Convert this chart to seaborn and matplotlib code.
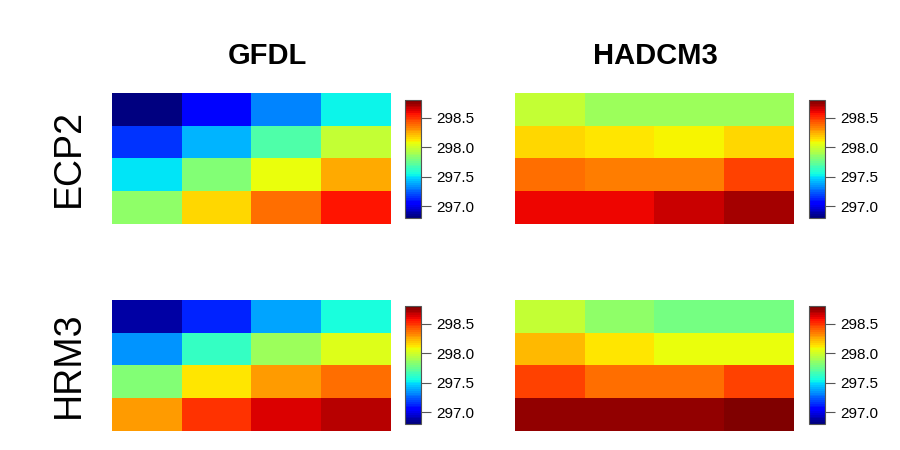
import numpy as np
import pandas as pd
import seaborn as sns
import matplotlib.pyplot as plt

# GCM x RCM mean temperatures (K), 4x4 grid, top row first
gfdl_ecp2 = [[296.80, 297.07, 297.32, 297.52],
             [297.15, 297.42, 297.70, 297.96],
             [297.50, 297.80, 298.08, 298.24],
             [297.84, 298.15, 298.38, 298.55]]
hadcm3_ecp2 = [[297.96, 297.89, 297.88, 297.89],
               [298.16, 298.12, 298.09, 298.16],
               [298.38, 298.35, 298.35, 298.46],
               [298.61, 298.61, 298.67, 298.73]]
gfdl_hrm3 = [[296.88, 297.14, 297.39, 297.55],
             [297.36, 297.62, 297.89, 298.04],
             [297.80, 298.12, 298.28, 298.38],
             [298.28, 298.51, 298.64, 298.70]]
hadcm3_hrm3 = [[297.96, 297.84, 297.77, 297.77],
               [298.22, 298.12, 298.08, 298.08],
               [298.46, 298.38, 298.38, 298.46],
               [298.74, 298.74, 298.74, 298.80]]

gcms = ['GFDL', 'HADCM3']
rcms = ['ECP2', 'HRM3']
panels = {('ECP2', 'GFDL'): gfdl_ecp2, ('ECP2', 'HADCM3'): hadcm3_ecp2,
          ('HRM3', 'GFDL'): gfdl_hrm3, ('HRM3', 'HADCM3'): hadcm3_hrm3}
cbar_ticks = [297.0, 297.5, 298.0, 298.5]
vmin, vmax = 296.8, 298.8

plt.rcParams['font.family'] = ['Liberation Sans', 'DejaVu Sans']
cmap = plt.get_cmap('jet', 64)

fig = plt.figure(figsize=(9, 4.5), dpi=100)

hm_left = [0.1244, 0.5722]
cb_left = [0.450, 0.899]
hm_bottom = [0.502, 0.042]
cb_bottom = [0.5156, 0.0578]

for i, rcm in enumerate(rcms):
    for j, gcm in enumerate(gcms):
        ax = fig.add_axes([hm_left[j], hm_bottom[i], 0.310, 0.292])
        cax = fig.add_axes([cb_left[j], cb_bottom[i], 0.0178, 0.262])
        df = pd.DataFrame(panels[(rcm, gcm)])
        sns.heatmap(df, ax=ax, cmap=cmap, vmin=vmin, vmax=vmax,
                    cbar_ax=cax, xticklabels=False, yticklabels=False)
        ax.tick_params(length=0)
        cbar = ax.collections[0].colorbar
        cbar.set_ticks(cbar_ticks)
        cbar.set_ticklabels([f"{t:.1f}" for t in cbar_ticks])
        cbar.outline.set_visible(True)
        cbar.outline.set_edgecolor('#555555')
        cbar.outline.set_linewidth(0.8)
        cax.tick_params(labelsize=11, length=7, width=0.8, color='#555555', pad=4)

fig.text(0.297, 0.875, 'GFDL', ha='center', va='center', fontsize=21, fontweight='bold')
fig.text(0.728, 0.875, 'HADCM3', ha='center', va='center', fontsize=21, fontweight='bold')
fig.text(0.076, 0.648, 'ECP2', ha='center', va='center', fontsize=27, rotation=90)
fig.text(0.076, 0.189, 'HRM3', ha='center', va='center', fontsize=27, rotation=90)

plt.savefig('out.png', dpi=100)
